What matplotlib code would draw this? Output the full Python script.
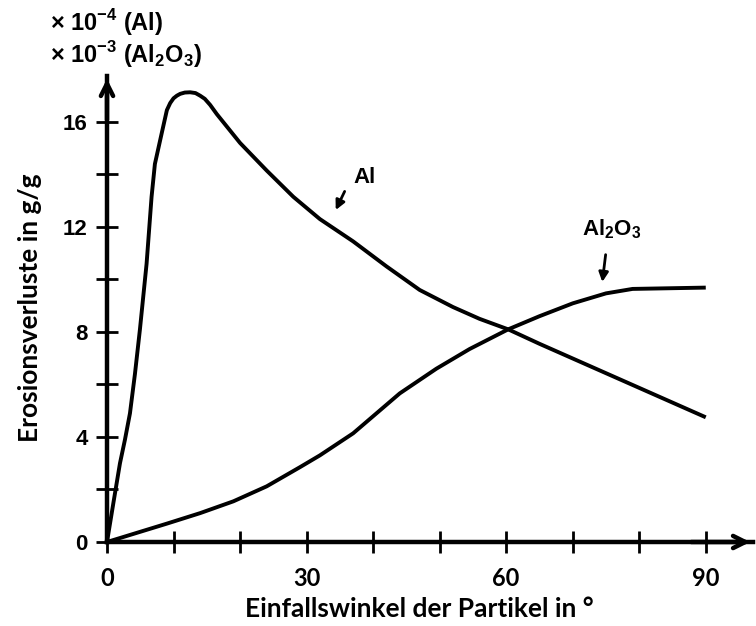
import numpy as np
import matplotlib
matplotlib.use('Agg')
import matplotlib.pyplot as plt

plt.rcParams['mathtext.fontset'] = 'custom'
plt.rcParams['mathtext.rm'] = 'Liberation Sans:bold'
plt.rcParams['mathtext.bf'] = 'Liberation Sans:bold'

# Values (angle in degree, loss in axis units)
al_angle = [0, 1.0, 1.95, 2.7, 3.45, 4.2, 4.95, 5.95, 6.7, 7.2, 8.1, 9.0, 9.5, 10.0, 10.5, 11.0,
            11.7, 12.5, 13.3, 14.0, 14.7, 15.5, 16.5, 20, 24, 28, 32, 37, 42, 47, 52, 56,
            60.3, 65, 75, 90]
al_loss = [0, 1.55, 3.0, 3.9, 4.9, 6.4, 8.1, 10.6, 13.15, 14.4, 15.43, 16.45, 16.72, 16.9, 17.0,
           17.07, 17.12, 17.13, 17.1, 17.0, 16.88, 16.65, 16.3, 15.2, 14.15, 13.15, 12.3, 11.45,
           10.5, 9.6, 8.95, 8.5, 8.1, 7.55, 6.43, 4.75]

al2o3_angle = [0, 9, 14, 19, 24, 29, 32, 37, 44, 49.5, 54.5, 60.3, 65, 70, 75, 79, 90]
al2o3_loss = [0, 0.7, 1.1, 1.55, 2.12, 2.85, 3.3, 4.14, 5.66, 6.6, 7.35, 8.1, 8.6, 9.09, 9.47, 9.64, 9.69]

x_ticks = np.arange(0, 91, 10)
x_labels = ['0', '', '', '30', '', '', '60', '', '', '90']
y_ticks = np.arange(0, 17, 2)
y_labels = ['0', '', '4', '', '8', '', '12', '', '16']

fig = plt.figure(figsize=(7.56, 6.26), dpi=100)
ax = fig.add_axes([107 / 756, 84 / 626, 646 / 756, 466 / 626])

ax.plot(al_angle, al_loss, color='black', lw=2.8, solid_capstyle='butt', solid_joinstyle='round')
ax.plot(al2o3_angle, al2o3_loss, color='black', lw=2.8, solid_capstyle='butt', solid_joinstyle='round')

ax.set_xlim(0, 97.1)
ax.set_ylim(0, 17.75)

for side in ['top', 'right']:
    ax.spines[side].set_visible(False)
for side in ['left', 'bottom']:
    ax.spines[side].set_linewidth(3.2)

# arrow heads on the axes
ax.annotate('', xy=(1.0, 0), xytext=(0.9, 0), xycoords='axes fraction',
            arrowprops=dict(arrowstyle='->', lw=3.2, mutation_scale=22, color='black'))
ax.annotate('', xy=(0, 1.0), xytext=(0, 0.9), xycoords='axes fraction',
            arrowprops=dict(arrowstyle='->', lw=3.2, mutation_scale=22, color='black'))

ax.set_xticks(x_ticks)
ax.set_xticklabels(x_labels, fontfamily='Lato', fontweight='bold', fontsize=17)
ax.set_yticks(y_ticks)
ax.set_yticklabels(y_labels, fontfamily='Liberation Sans', fontweight='bold', fontsize=16)
ax.tick_params(axis='both', direction='inout', length=16, width=2, color='black')
ax.tick_params(axis='x', pad=10)
ax.tick_params(axis='y', pad=6)

ax.set_xlabel('Einfallswinkel der Partikel in °', fontfamily='Lato', fontweight='bold',
              fontsize=19)
ax.xaxis.set_label_coords(0.483, -0.118)
ax.set_ylabel('Erosionsverluste in g/g', fontfamily='Lato', fontweight='bold',
              fontsize=19)
ax.yaxis.set_label_coords(-0.1, 0.502)

# curve labels with arrows
ax.text(38.7, 13.9, 'Al', fontfamily='Liberation Sans', fontweight='bold', fontsize=16,
        ha='center', va='center')
ax.annotate('', xy=(34.2, 12.55), xytext=(35.9, 13.45),
            arrowprops=dict(arrowstyle='-|>', lw=2, mutation_scale=14, color='black'))
ax.text(75.8, 11.9, r'Al$_{\mathregular{2}}$O$_{\mathregular{3}}$', fontfamily='Liberation Sans',
        fontweight='bold', fontsize=16, ha='center', va='center')
ax.annotate('', xy=(74.4, 9.8), xytext=(75.0, 11.05),
            arrowprops=dict(arrowstyle='-|>', lw=2, mutation_scale=14, color='black'))

# scale factors above the axis
fig.text(50 / 756, 1 - 23 / 626, r'× 10$^{\mathregular{-4}}$ (Al)', fontfamily='Liberation Sans',
         fontweight='bold', fontsize=17, ha='left', va='center')
fig.text(50 / 756, 1 - 55 / 626, r'× 10$^{\mathregular{-3}}$ (Al$_{\mathregular{2}}$O$_{\mathregular{3}}$)',
         fontfamily='Liberation Sans', fontweight='bold', fontsize=17, ha='left', va='center')

fig.savefig('out.png', dpi=100)
